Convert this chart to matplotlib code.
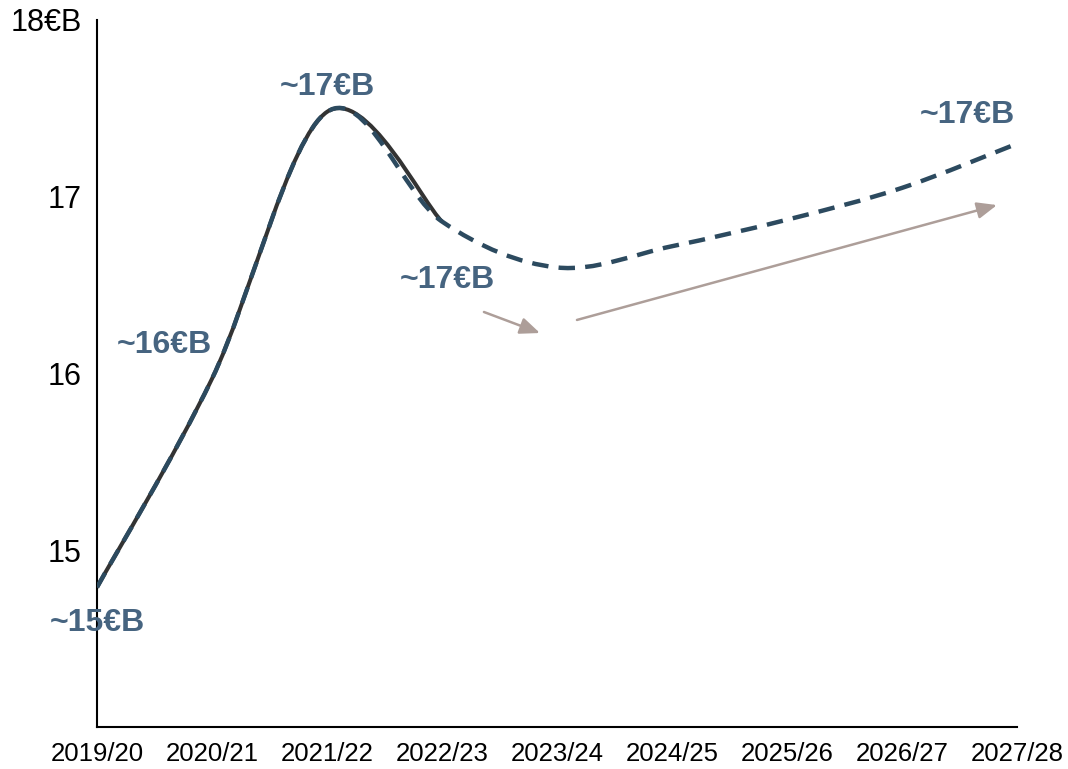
import matplotlib
matplotlib.use("Agg")
import matplotlib.pyplot as plt
from matplotlib.path import Path
from matplotlib.patches import PathPatch

plt.rcParams['font.family'] = ['Liberation Sans', 'DejaVu Sans']

# Revenue in €B per season
seasons = ['2019/20', '2020/21', '2021/22', '2022/23', '2023/24',
           '2024/25', '2025/26', '2026/27', '2027/28']
actual = [14.79, 15.97, 17.48, 16.86]
forecast = [14.79, 15.97, 17.48, 16.86, 16.60, 16.72, 16.87, 17.05, 17.30]

y_ticks = [15, 16, 17, 18]
y_tick_labels = ['15', '16', '17', '18€B']

# value callouts: text, x (season index), y (€B)
callouts = [
    ('~15€B', 0.0, 14.59),
    ('~16€B', 0.59, 16.16),
    ('~17€B', 2.0, 17.62),
    ('~17€B', 3.05, 16.53),
    ('~17€B', 7.57, 17.46),
]

LINE_DARK = '#333333'
LINE_BLUE = '#2c4a5f'
LABEL_BLUE = '#466480'
ARROW_GREY = '#ad9e99'


def smooth_path(values):
    """Bezier path through the points, spreadsheet-style smoothing."""
    pts = [(float(i), v) for i, v in enumerate(values)]
    n = len(pts)
    verts = [pts[0]]
    codes = [Path.MOVETO]
    for i in range(n - 1):
        p0 = pts[max(i - 1, 0)]
        p1 = pts[i]
        p2 = pts[i + 1]
        p3 = pts[min(i + 2, n - 1)]
        c1 = (p1[0] + (p2[0] - p0[0]) / 6, p1[1] + (p2[1] - p0[1]) / 6)
        c2 = (p2[0] - (p3[0] - p1[0]) / 6, p2[1] - (p3[1] - p1[1]) / 6)
        verts += [c1, c2, p2]
        codes += [Path.CURVE4] * 3
    return Path(verts, codes)


fig = plt.figure(figsize=(10.68, 7.69), dpi=100)
ax = fig.add_axes([0.0908, 0.0546, 0.8614, 0.9194])

ax.add_patch(PathPatch(smooth_path(actual), fill=False, edgecolor=LINE_DARK,
                       linewidth=2.9, capstyle='butt', zorder=3))
ax.add_patch(PathPatch(smooth_path(forecast), fill=False, edgecolor=LINE_BLUE,
                       linewidth=3.2, linestyle=(0, (3.7, 2.3)), zorder=4))

for text, x, y in callouts:
    ax.text(x, y, text, ha='center', va='center', fontsize=23,
            fontweight='bold', color=LABEL_BLUE, zorder=5)

# trend arrows
for start, end in [((3.365, 16.348), (3.852, 16.229)),
                   ((4.174, 16.303), (7.826, 16.953))]:
    ax.annotate('', xy=end, xytext=start,
                arrowprops=dict(arrowstyle='-|>,head_length=0.6,head_width=0.25',
                                mutation_scale=20, color=ARROW_GREY, lw=1.8,
                                shrinkA=0, shrinkB=0))

ax.set_xlim(0, 8)
ax.set_ylim(14, 18)
ax.set_xticks(range(len(seasons)))
ax.set_xticklabels(seasons)
ax.set_yticks(y_ticks)
ax.set_yticklabels(y_tick_labels)
ax.tick_params(axis='both', length=0, colors='black')
ax.tick_params(axis='y', pad=11, labelsize=22)
ax.tick_params(axis='x', pad=11, labelsize=18.5)

for side in ['top', 'right']:
    ax.spines[side].set_visible(False)
for side in ['left', 'bottom']:
    ax.spines[side].set_linewidth(1.5)
    ax.spines[side].set_color('black')

fig.savefig('out.png', dpi=100)
